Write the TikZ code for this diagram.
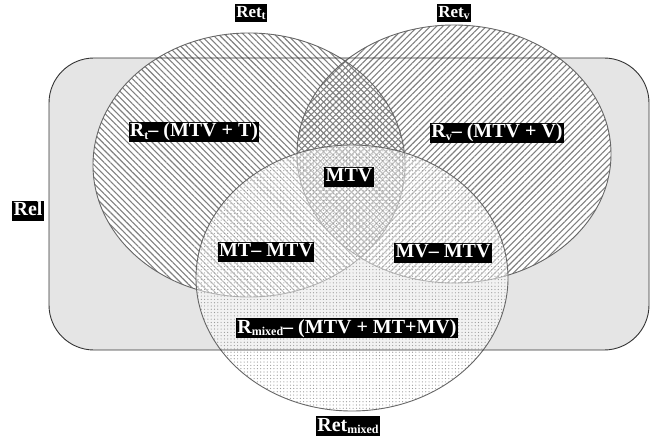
\documentclass[tikz,border=0pt]{standalone}
\usepackage{fontspec}
\setmainfont{Liberation Serif}
\usetikzlibrary{patterns.meta}
% lowered small index inside a label
\newcommand{\lsub}[1]{\raisebox{-0.3ex}{\fontsize{12}{12}\selectfont #1}}
\tikzset{
  lab/.style={fill=black, text=white, inner sep=1.2pt,
    font=\bfseries\fontsize{20}{20}\selectfont, text height=14pt, text depth=4pt},
  setlab/.style={lab, font=\bfseries\fontsize{17}{17}\selectfont, text height=12pt, text depth=3pt},
  rim/.style={draw=black!60, line width=0.9pt},
  hatchT/.style={pattern={Lines[angle=-45,distance=4.4pt,line width=1.1pt]}, pattern color=black!50},
  hatchV/.style={pattern={Lines[angle=45,distance=4.4pt,line width=1.1pt]}, pattern color=black!50},
  dotsM/.style={pattern={Dots[distance=3.3pt,radius=0.6pt]}, pattern color=black!40},
}
\begin{document}
\begin{tikzpicture}[x=1pt,y=-1pt]
\useasboundingbox (0,0) rectangle (650,438);

% relevant-document universe
\path[fill=black!10,rounded corners=45pt] (49,58) rectangle (649,350);

% retrieved sets: text and visual
\fill[white] (249,165) ellipse [x radius=156, y radius=132];
\fill[white] (454,154) ellipse [x radius=157, y radius=129];
\path[hatchT] (249,165) ellipse [x radius=156, y radius=132];
\path[hatchV] (454,154) ellipse [x radius=157, y radius=129];
\draw[rim] (249,165) ellipse [x radius=156, y radius=132];
\draw[rim] (454,154) ellipse [x radius=157, y radius=129];

% retrieved set: mixed
\fill[white, fill opacity=0.5] (352,278) ellipse [x radius=156, y radius=133];
\path[dotsM] (352,278) ellipse [x radius=156, y radius=133];
\draw[rim] (352,278) ellipse [x radius=156, y radius=133];

% border of the universe on top
\draw[black!80, line width=0.9pt, rounded corners=45pt] (49,58) rectangle (649,350);

% labels
\node[setlab] (rett) at (251,13) {Ret\lsub{t}};
\node[setlab] (retv) at (454,13) {Ret\lsub{v}};
\node[lab] (retm) at (348,426) {Ret\lsub{mixed}};
\node[lab] (rel) at (28,211) {Rel};
\node[lab] (rt) at (194,132) {R\lsub{t}– (MTV + T)};
\node[lab] (rv) at (497,133) {R\lsub{v}– (MTV + V)};
\node[lab] (mtv) at (349,177) {MTV};
\node[lab] (mt) at (266,252) {MT– MTV};
\node[lab] (mv) at (443,253) {MV– MTV};
\node[lab] (rm) at (347,328) {R\lsub{mixed}– (MTV + MT+MV)};
\end{tikzpicture}
\end{document}
